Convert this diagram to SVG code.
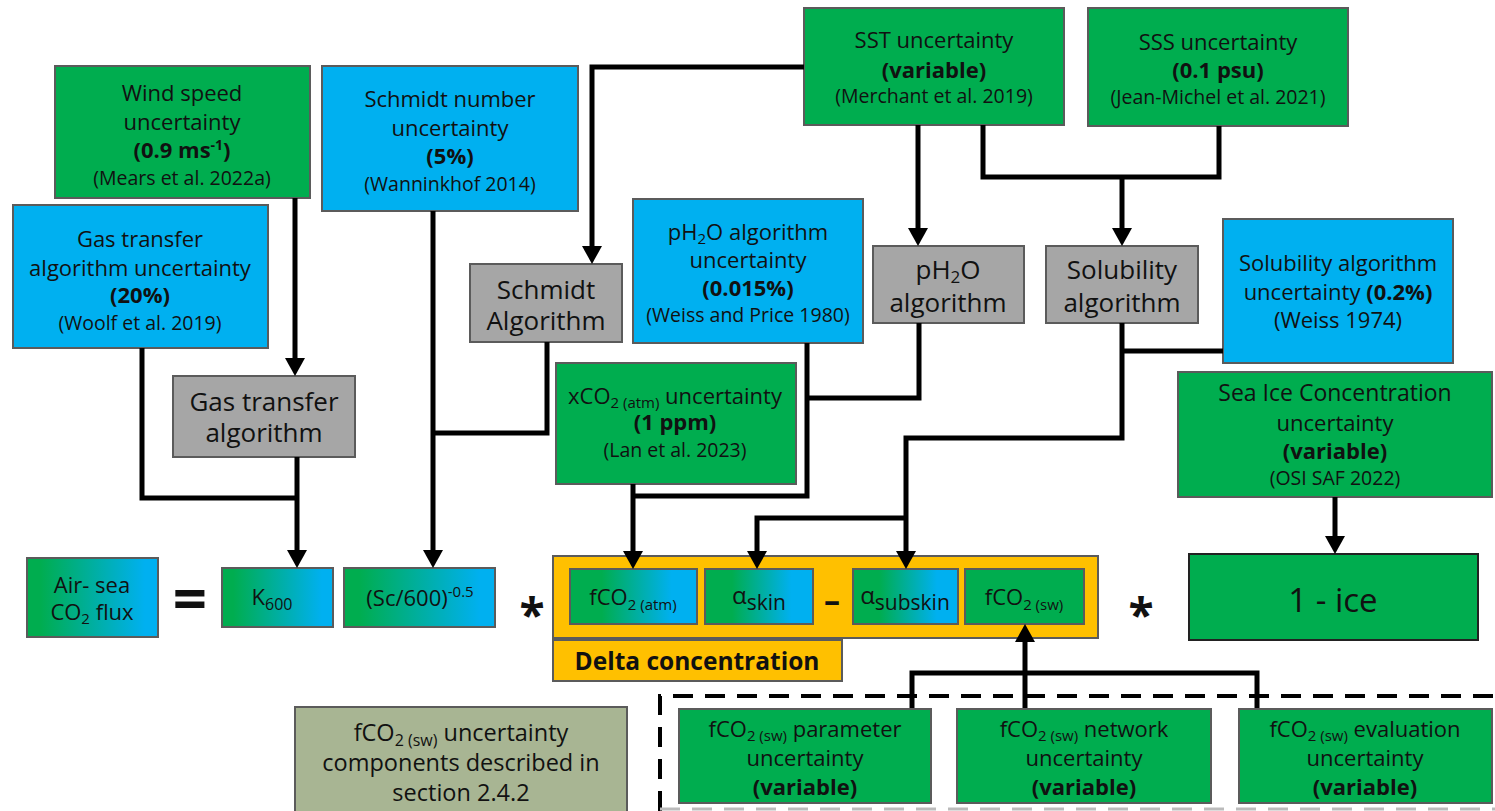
<svg xmlns="http://www.w3.org/2000/svg" width="1495" height="811" viewBox="0 0 1495 811">
<style>
.g{fill:#00AD4F;stroke:#5b5b5b;stroke-width:2}
.b{fill:#00B0F0;stroke:#5b5b5b;stroke-width:2}
.gr{fill:#A6A6A6;stroke:#5b5b5b;stroke-width:2}
.gb{fill:url(#gb);stroke:#5b5b5b;stroke-width:2}
.gb2{fill:url(#gb2);stroke:#5b5b5b;stroke-width:2}
.or{fill:#FFC000;stroke:#5b5b5b;stroke-width:2}
.ol{fill:#A8B593;stroke:#5b5b5b;stroke-width:2}
text{font-family:"Open Sans","Liberation Sans",sans-serif;font-size:22px;text-anchor:middle;fill:#111}
text.c{font-size:19.5px}
.k{font-weight:bold}
text.a{font-size:26px}
text.bt{font-size:22px}
text.nt{font-size:23.5px}
text.big{font-size:60px;font-weight:bold}
text.star{font-size:46px;font-weight:bold}
.ln{fill:none;stroke:#000;stroke-width:5}
.ar{marker-end:url(#ah)}
</style>
<defs>
<linearGradient id="gb" x1="0" y1="0" x2="1" y2="0">
<stop offset="0.1" stop-color="#00AD4F"/><stop offset="0.9" stop-color="#00B0F0"/>
</linearGradient>
<linearGradient id="gb2" x1="0" y1="0" x2="1" y2="0">
<stop offset="0.25" stop-color="#00AD4F"/><stop offset="0.8" stop-color="#00B0F0"/>
</linearGradient>
<marker id="ah" markerUnits="userSpaceOnUse" markerWidth="20" markerHeight="20" refX="6" refY="10" orient="auto">
<path d="M0,0 L18,10 L0,20 z" fill="#000"/>
</marker>
</defs>

<g id="wind">
<rect class="g" x="55" y="66" width="255" height="132"/>
<text x="182" y="101">Wind speed</text>
<text x="182" y="130">uncertainty</text>
<text x="182" y="158" class="k">(0.9 ms<tspan dy="-8" font-size="14">-1</tspan><tspan dy="8">)</tspan></text>
<text x="182" y="185" class="c">(Mears et al. 2022a)</text>
</g>

<g id="gasunc">
<rect class="b" x="13" y="205" width="255" height="143"/>
<text x="140" y="247">Gas transfer</text>
<text x="140" y="276">algorithm uncertainty</text>
<text x="140" y="303" class="k">(20%)</text>
<text x="140" y="330" class="c">(Woolf et al. 2019)</text>
</g>

<g id="gasalg">
<rect class="gr" x="173" y="376" width="182" height="81"/>
<text x="264" y="411" class="a">Gas transfer</text>
<text x="264" y="442" class="a">algorithm</text>
</g>

<g id="schmidtunc">
<rect class="b" x="322" y="66" width="256" height="145"/>
<text x="450" y="107">Schmidt number</text>
<text x="450" y="136">uncertainty</text>
<text x="450" y="164" class="k">(5%)</text>
<text x="450" y="191" class="c">(Wanninkhof 2014)</text>
</g>

<g id="schmidtalg">
<rect class="gr" x="470" y="264" width="152" height="78"/>
<text x="546" y="299" class="a">Schmidt</text>
<text x="546" y="330" class="a">Algorithm</text>
</g>

<g id="ph2ounc">
<rect class="b" x="633" y="199" width="230" height="144"/>
<text x="748" y="240">pH<tspan dy="4" font-size="15">2</tspan><tspan dy="-4">O algorithm</tspan></text>
<text x="748" y="268">uncertainty</text>
<text x="748" y="296" class="k">(0.015%)</text>
<text x="748" y="322" class="c">(Weiss and Price 1980)</text>
</g>

<g id="xco2">
<rect class="g" x="556" y="363" width="240" height="121"/>
<text x="675" y="404">xCO<tspan dy="4" font-size="15">2 (atm)</tspan><tspan dy="-4"> uncertainty</tspan></text>
<text x="675" y="430" class="k">(1 ppm)</text>
<text x="675" y="457" class="c">(Lan et al. 2023)</text>
</g>

<g id="sst">
<rect class="g" x="804" y="8" width="260" height="117"/>
<text x="934" y="48">SST uncertainty</text>
<text x="934" y="78" class="k">(variable)</text>
<text x="934" y="103" class="c">(Merchant et al. 2019)</text>
</g>

<g id="sss">
<rect class="g" x="1088" y="8" width="260" height="118"/>
<text x="1218" y="50">SSS uncertainty</text>
<text x="1218" y="78" class="k">(0.1 psu)</text>
<text x="1218" y="104" class="c">(Jean-Michel et al. 2021)</text>
</g>

<g id="ph2oalg">
<rect class="gr" x="873" y="246" width="151" height="77"/>
<text x="948" y="279" class="a">pH<tspan dy="4" font-size="17">2</tspan><tspan dy="-4">O</tspan></text>
<text x="948" y="312" class="a">algorithm</text>
</g>

<g id="solalg">
<rect class="gr" x="1046" y="246" width="152" height="77"/>
<text x="1122" y="279" class="a">Solubility</text>
<text x="1122" y="312" class="a">algorithm</text>
</g>

<g id="solunc">
<rect class="b" x="1223" y="219" width="230" height="144"/>
<text x="1338" y="271">Solubility algorithm</text>
<text x="1338" y="300">uncertainty <tspan class="k">(0.2%)</tspan></text>
<text x="1338" y="328">(Weiss 1974)</text>
</g>

<g id="seaice">
<rect class="g" x="1178" y="372" width="314" height="125"/>
<text x="1335" y="401" style="font-size:23px">Sea Ice Concentration</text>
<text x="1335" y="431">uncertainty</text>
<text x="1335" y="459" class="k">(variable)</text>
<text x="1335" y="485" class="c">(OSI SAF 2022)</text>
</g>

<g id="ice">
<rect x="1189" y="554" width="289" height="86" fill="#00AD4F" stroke="#222" stroke-width="2"/>
<text x="1333" y="612" style="font-size:33px">1 - ice</text>
</g>

<g id="airsea">
<rect class="gb" x="27" y="558" width="131" height="79"/>
<text x="92" y="593">Air- sea</text>
<text x="92" y="620">CO<tspan dy="4" font-size="15">2</tspan><tspan dy="-4"> flux</tspan></text>
</g>

<text x="190" y="620" class="big">=</text>

<g id="k600">
<rect class="gb" x="222" y="568" width="111" height="59"/>
<text x="272" y="605">K<tspan dy="5" font-size="16">600</tspan></text>
</g>

<g id="sc">
<rect class="gb" x="344" y="568" width="151" height="59"/>
<text x="420" y="606">(Sc/600)<tspan dy="-9" font-size="15">-0.5</tspan></text>
</g>

<text x="532" y="632" class="star">*</text>

<g id="delta">
<rect class="or" x="553" y="556" width="545" height="82"/>
<rect class="gb2" x="570" y="569" width="127" height="55"/>
<text x="633" y="605">fCO<tspan dy="5" font-size="15">2 (atm)</tspan></text>
<rect class="gb2" x="705" y="569" width="108" height="55"/>
<text x="759" y="604" style="font-size:24px">α<tspan dy="6" font-size="21">skin</tspan></text>
<text x="832" y="612" style="font-size:32px;font-weight:bold">–</text>
<rect class="gb2" x="853" y="569" width="105" height="55"/>
<text x="905" y="604" style="font-size:24px">α<tspan dy="6" font-size="21">subskin</tspan></text>
<rect class="g" x="965" y="569" width="119" height="55"/>
<text x="1024" y="605">fCO<tspan dy="5" font-size="15">2 (sw)</tspan></text>
<rect class="or" x="553" y="640" width="289" height="41"/>
<text x="697" y="670" style="font-size:24.5px;font-weight:bold">Delta concentration</text>
</g>

<text x="1141" y="632" class="star">*</text>

<g id="note">
<rect class="ol" x="295" y="707" width="332" height="106"/>
<text x="461" y="741" class="nt">fCO<tspan dy="5" font-size="16">2 (sw)</tspan><tspan dy="-5"> uncertainty</tspan></text>
<text x="461" y="771" class="nt">components described in</text>
<text x="461" y="801" class="nt">section 2.4.2</text>
</g>

<g id="dashed">
<path d="M660,811 V696 H1495" fill="none" stroke="#000" stroke-width="4" stroke-dasharray="20 12"/>
<path d="M660,809 H1495" fill="none" stroke="#bbb" stroke-width="3" stroke-dasharray="20 12"/>
</g>

<g id="param">
<rect class="g" x="679" y="709" width="252" height="94"/>
<text x="805" y="737" class="bt">fCO<tspan dy="4" font-size="15">2 (sw)</tspan><tspan dy="-4"> parameter</tspan></text>
<text x="805" y="766" class="bt">uncertainty</text>
<text x="805" y="795" class="bt k">(variable)</text>
</g>

<g id="network">
<rect class="g" x="957" y="709" width="254" height="94"/>
<text x="1084" y="737" class="bt">fCO<tspan dy="4" font-size="15">2 (sw)</tspan><tspan dy="-4"> network</tspan></text>
<text x="1084" y="766" class="bt">uncertainty</text>
<text x="1084" y="795" class="bt k">(variable)</text>
</g>

<g id="evaluation">
<rect class="g" x="1239" y="709" width="253" height="94"/>
<text x="1365" y="737" class="bt">fCO<tspan dy="4" font-size="15">2 (sw)</tspan><tspan dy="-4"> evaluation</tspan></text>
<text x="1365" y="766" class="bt">uncertainty</text>
<text x="1365" y="795" class="bt k">(variable)</text>
</g>

<g id="connectors">
<path class="ln ar" d="M804,67 H592 V252"/>
<path class="ln ar" d="M918,125 V234"/>
<path class="ln" d="M983,125 V177 H1219 V126"/>
<path class="ln ar" d="M1122,177 V234"/>
<path class="ln ar" d="M295,198 V364"/>
<path class="ln" d="M142,348 V498 H297"/>
<path class="ln ar" d="M297,457 V556"/>
<path class="ln ar" d="M433,211 V556"/>
<path class="ln" d="M547,342 V433 H433"/>
<path class="ln ar" d="M633,484 V557"/>
<path class="ln" d="M807,343 V496 H633"/>
<path class="ln" d="M919,323 V398 H807"/>
<path class="ln ar" d="M1122,323 V438 H906 V557"/>
<path class="ln" d="M1223,351 H1122"/>
<path class="ln ar" d="M906,518 H757 V557"/>
<path class="ln ar" d="M1335,497 V542"/>
<path class="ln ar" d="M1025,708 V636"/>
<path class="ln" d="M912,708 V673 H1257 V708"/>
</g>
</svg>
